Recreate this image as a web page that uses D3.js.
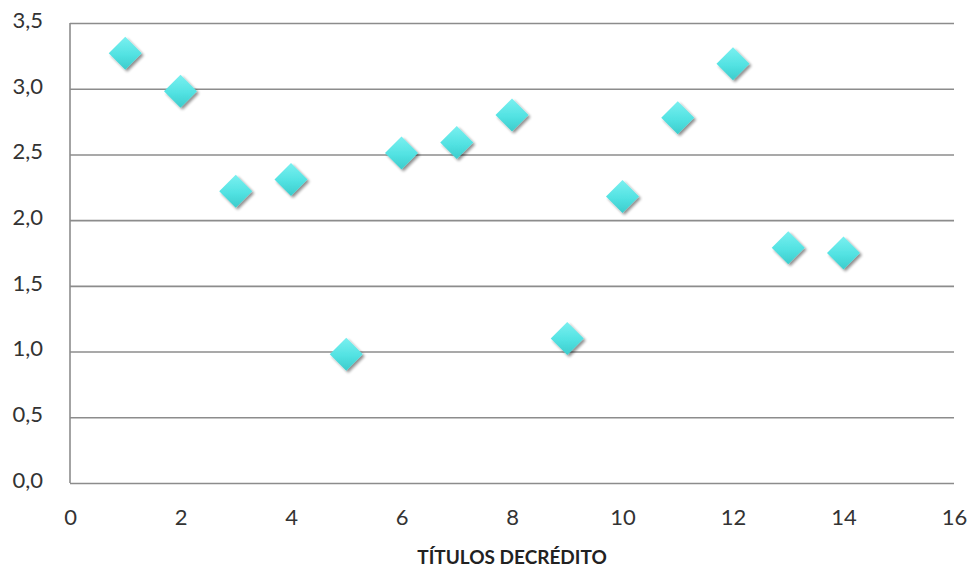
<!DOCTYPE html>
<html><head><meta charset="utf-8">
<script src="https://cdn.jsdelivr.net/npm/d3@7"></script>
<style>
html,body{margin:0;padding:0;background:#fff;}
svg text{font-family:Lato,"Open Sans",sans-serif;}
</style></head>
<body>
<svg id="chart" width="971" height="569"></svg>
<script>
const xValues = [1,2,3,4,5,6,7,8,9,10,11,12,13,14];
const yValues = [3.27,2.98,2.22,2.31,0.98,2.51,2.59,2.80,1.10,2.18,2.78,3.19,1.79,1.75];
const xTicks = [0,2,4,6,8,10,12,14,16];
const yTicks = [0,0.5,1,1.5,2,2.5,3,3.5];
const xTitle = "TÍTULOS DECRÉDITO";

const svg = d3.select("#chart");
const m = {left:70, right:17, top:23, bottom:86};
const W = 971, H = 569;
const x = d3.scaleLinear().domain([0,16]).range([m.left, W-m.right]);
const y = d3.scaleLinear().domain([0,3.5]).range([H-m.bottom, m.top]);

const defs = svg.append("defs");
const g = defs.append("linearGradient").attr("id","dg").attr("x1","0").attr("y1","0").attr("x2","0").attr("y2","1");
g.append("stop").attr("offset","0%").attr("stop-color","#7af0f0");
g.append("stop").attr("offset","55%").attr("stop-color","#52e2e2");
g.append("stop").attr("offset","100%").attr("stop-color","#3ccccc");
const f = defs.append("filter").attr("id","sh").attr("x","-50%").attr("y","-50%").attr("width","200%").attr("height","200%");
f.append("feGaussianBlur").attr("in","SourceAlpha").attr("stdDeviation","1.5").attr("result","b");
f.append("feOffset").attr("in","b").attr("dx","1.5").attr("dy","2").attr("result","o");
f.append("feComponentTransfer").attr("in","o").attr("result","o2").append("feFuncA").attr("type","linear").attr("slope","0.45");
const fm = f.append("feMerge");
fm.append("feMergeNode").attr("in","o2");
fm.append("feMergeNode").attr("in","SourceGraphic");

// gridlines
svg.append("g").attr("transform",`translate(${m.left},0)`)
  .call(d3.axisLeft(y).tickValues(yTicks).tickSize(-(W-m.left-m.right)).tickFormat(""))
  .call(s=>s.select(".domain").remove())
  .call(s=>s.selectAll("line").attr("stroke","#8c8c8c").attr("stroke-width",1.6));

// y axis line
svg.append("line").attr("x1",m.left).attr("x2",m.left).attr("y1",y(3.5)).attr("y2",y(0))
  .attr("stroke","#8c8c8c").attr("stroke-width",1.6);

// y labels
const ya = svg.append("g").attr("transform",`translate(${m.left},0)`)
  .call(d3.axisLeft(y).tickValues(yTicks).tickSize(0).tickPadding(27).tickFormat(d=>d3.format(".1f")(d).replace(".",",")));
ya.select(".domain").remove();
ya.selectAll("text").attr("font-size",22).attr("fill","#333").style("font-family","Lato,'Open Sans',sans-serif").attr("dy","0.2em");

// x labels
const xa = svg.append("g").attr("transform",`translate(0,${y(0)})`)
  .call(d3.axisBottom(x).tickValues(xTicks).tickSize(0).tickPadding(26).tickFormat(d3.format("d")));
xa.select(".domain").remove();
xa.selectAll("text").attr("font-size",22).attr("fill","#333").style("font-family","Lato,'Open Sans',sans-serif");

// title
svg.append("text").attr("x",(x(0)+x(16))/2).attr("y",564).attr("text-anchor","middle")
  .attr("font-size",19).attr("font-weight","bold").attr("fill","#222").text(xTitle);

// markers
const r = 16.5;
svg.append("g").selectAll("path").data(xValues.map((d,i)=>[d,yValues[i]])).join("path")
  .attr("d",`M0,${-r}L${r},0L0,${r}L${-r},0Z`)
  .attr("transform",d=>`translate(${x(d[0])},${y(d[1])})`)
  .attr("fill","url(#dg)").attr("filter","url(#sh)");
</script>
</body></html>
